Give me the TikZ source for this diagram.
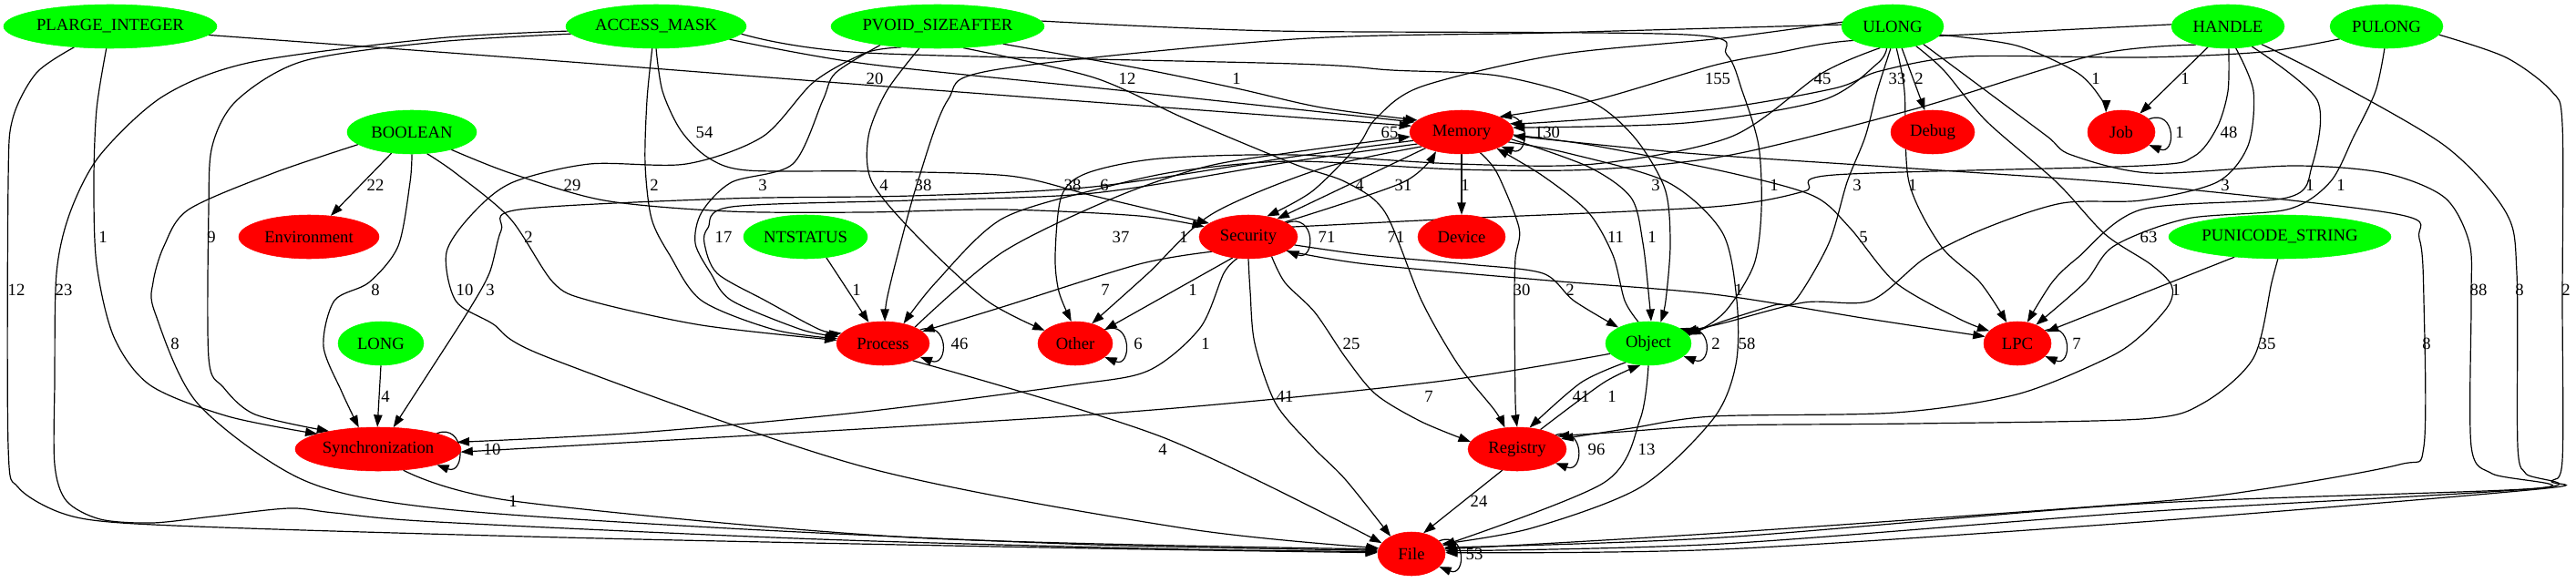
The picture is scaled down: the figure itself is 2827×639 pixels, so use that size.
\documentclass[tikz,border=0pt]{standalone}
\usepackage{fontspec}
\setmainfont{Liberation Serif}
\usetikzlibrary{shapes.geometric,arrows.meta,backgrounds}
\definecolor{gr}{RGB}{0,255,0}
\definecolor{rd}{RGB}{255,0,0}
\begin{document}
\begin{tikzpicture}[x=0.75pt,y=-0.75pt,
  n/.style={ellipse,inner sep=0pt,minimum height=36pt,font=\fontsize{14}{16}\selectfont},
  g/.style={n,fill=gr,draw=gr},
  r/.style={n,fill=rd,draw=rd},
  e/.style={line width=0.9pt,-{Triangle[length=10pt,width=7pt]}},
  lbl/.style={font=\fontsize{14}{16}\selectfont,inner sep=0pt}]
\useasboundingbox (0,0) rectangle (2827,639);
% nodes
\node[g,minimum width=175.5pt] (PL) at (121,29) {PLARGE\_INTEGER};
\node[g,minimum width=148.5pt] (AM) at (720,29) {ACCESS\_MASK};
\node[g,minimum width=175.5pt] (PV) at (1029,29) {PVOID\_SIZEAFTER};
\node[g,minimum width=84pt] (UL) at (2077,29) {ULONG};
\node[g,minimum width=93pt] (HA) at (2445,29) {HANDLE};
\node[g,minimum width=93pt] (PU) at (2619,29) {PULONG};
\node[g,minimum width=106.5pt] (BO) at (452,145) {BOOLEAN};
\node[r,minimum width=85.5pt] (ME) at (1604,145) {Memory};
\node[r,minimum width=69pt] (DE) at (2121,145) {Debug};
\node[r,minimum width=55.5pt] (JO) at (2328,145) {Job};
\node[r,minimum width=115.5pt] (EN) at (339,260) {Environment};
\node[g,minimum width=102pt] (NT) at (884,260) {NTSTATUS};
\node[r,minimum width=81pt] (SE) at (1370,260) {Security};
\node[r,minimum width=72pt] (DV) at (1604,260) {Device};
\node[g,minimum width=183pt] (PS) at (2502,260) {PUNICODE\_STRING};
\node[g,minimum width=70.5pt] (LO) at (418,377) {LONG};
\node[r,minimum width=76.5pt] (PR) at (969,377) {Process};
\node[r,minimum width=61.5pt] (OT) at (1180,377) {Other};
\node[g,minimum width=70.5pt] (OB) at (1809,377) {Object};
\node[r,minimum width=55.5pt] (LP) at (2214,377) {LPC};
\node[r,minimum width=136.5pt] (SY) at (415,493) {Synchronization};
\node[r,minimum width=81pt] (RE) at (1665,493) {Registry};
\node[r,minimum width=55.5pt] (FI) at (1549,608) {File};
\begin{scope}[on background layer]
\fill[white] (0,0) rectangle (2827,639);
% PLARGE_INTEGER
\draw[e] plot[smooth] coordinates {(PL.-5) (600,66) (960,94) (ME.173)};
\draw[e] plot[smooth] coordinates {(PL.-100) (106,120) (103,200) (106,290) (125,370) (165,423) (250,457) (SY.166)};
\draw[e] plot[smooth] coordinates {(PL.-150) (40,80) (14,130) (9,200) (9,490) (20,535) (67,563) (133,574) (333,582) (700,592) (1200,602) (FI.178)};
% ACCESS_MASK
\draw[e] plot[smooth] coordinates {(AM.-177) (480,42) (277,68) (180,105) (110,170) (77,233) (62,300) (60,420) (60,510) (73,550) (110,570) (167,574) (233,567) (317,558) (367,563) (480,573) (900,592) (1300,603) (FI.176)};
\draw[e] plot[smooth] coordinates {(AM.-175) (480,46) (333,67) (260,110) (233,160) (229,230) (229,393) (245,425) (280,455) (SY.160)};
\draw[e] plot[smooth] coordinates {(AM.-100) (710,110) (708,180) (715,240) (735,280) (770,330) (850,362) (PR.174)};
\draw[e] plot[smooth] coordinates {(AM.-90) (727,100) (747,143) (777,173) (820,187) (950,188) (1107,193) (1200,215) (SE.161)};
\draw[e] plot[smooth] coordinates {(AM.-10) (950,70) (1237,100) (ME.168)};
\draw[e] plot[smooth] coordinates {(AM.-5) (950,58) (1420,70) (1527,77) (1643,83) (1743,110) (1793,150) (1827,207) (1833,267) (1828,330) (OB.60)};
% PVOID_SIZEAFTER
\draw[e] plot[smooth] coordinates {(PV.-150) (950,58) (893,90) (837,150) (753,180) (647,180) (563,200) (520,233) (490,277) (500,330) (540,355) (603,393) (950,513) (1300,580) (FI.170)};
\draw[e] plot[smooth] coordinates {(PV.-162) (917,80) (903,110) (870,180) (803,200) (770,233) (763,267) (780,300) (803,330) (880,362) (PR.171)};
\draw[e] plot[smooth] coordinates {(PV.-130) (973,100) (953,150) (957,200) (1007,260) (1083,330) (OT.157)};
\draw[e] plot[smooth] coordinates {(PV.-15) (1250,75) (1357,97) (1450,118) (ME.165)};
\draw[e] plot[smooth] coordinates {(PV.-40) (1200,85) (1300,130) (1420,180) (1477,200) (1520,233) (1560,330) (1600,400) (1640,450) (RE.120)};
\draw[e] plot[smooth] coordinates {(PV.3) (1400,34) (1850,38) (1895,60) (1912,100) (1930,160) (1933,230) (1925,290) (1895,340) (1865,362) (OB.26)};
% ULONG
\draw[e] plot[smooth] coordinates {(UL.178) (1700,36) (1420,43) (1090,77) (1040,110) (1007,200) (985,280) (973,330) (PR.85)};
\draw[e] (UL.-67) -- (DE.110);
\draw[e] plot[smooth] coordinates {(UL.-10) (2213,50) (2280,80) (2307,110) (JO.128)};
\draw[e] plot[smooth] coordinates {(UL.-40) (2133,77) (2180,133) (2257,200) (2310,257) (2360,290) (2383,313) (2380,335) (2350,368) (2313,393) (2213,433) (2080,453) (1880,457) (1790,470) (RE.13)};
\draw[e] plot[smooth] coordinates {(UL.-30) (2180,100) (2247,150) (2273,170) (2360,190) (2517,182) (2617,190) (2683,217) (2710,267) (2712,330) (2712,490) (2735,520) (2785,536) (2350,553) (1890,590) (FI.11)};
\draw[e] plot[smooth] coordinates {(UL.-95) (2060,100) (2047,150) (2027,200) (2007,267) (1970,330) (1947,335) (1890,353) (OB.12)};
\draw[e] plot[smooth] coordinates {(UL.-105) (2060,70) (2000,110) (1850,135) (ME.5)};
\draw[e] plot[smooth] coordinates {(UL.175) (1890,42) (1710,60) (1560,95) (1510,130) (1490,160) (1440,210) (SE.48)};
\draw[e] plot[smooth] coordinates {(UL.-80) (2090,100) (2095,200) (2130,270) (2173,310) (LP.117)};
\draw[e] plot[smooth] coordinates {(UL.-120) (2000,80) (1900,150) (1750,180) (1600,180) (1420,170) (1273,174) (1193,190) (1165,215) (1158,280) (1162,320) (OT.100)};
% HANDLE
\draw[e] plot[smooth] coordinates {(HA.178) (2200,36) (2027,45) (1950,58) (1880,72) (1750,110) (ME.22)};
\draw[e] (HA.-134) -- (JO.45);
\draw[e] plot[smooth] coordinates {(HA.-88) (2445,100) (2433,140) (2407,172) (2350,182) (2013,192) (1980,210) (1880,227) (1600,240) (1440,248) (SE.13)};
\draw[e] plot[smooth] coordinates {(HA.-70) (2473,100) (2467,160) (2433,200) (2350,220) (2263,223) (2180,250) (2113,283) (2053,330) (1980,332) (1890,355) (OB.18)};
\draw[e] plot[smooth] coordinates {(HA.-40) (2543,110) (2537,183) (2510,217) (2350,230) (2280,283) (2252,310) (LP.65)};
\draw[e] plot[smooth] coordinates {(HA.-28) (2550,83) (2683,160) (2750,233) (2762,300) (2763,490) (2772,520) (2785,536) (2350,562) (1890,597) (FI.5)};
\draw[e] plot[smooth] coordinates {(HA.-150) (2300,60) (2100,120) (1900,170) (1750,186) (1600,186) (1420,177) (1300,187) (1215,205) (1100,240) (1027,310) (PR.44)};
% PULONG
\draw[e] plot[smooth] coordinates {(PU.-95) (2607,100) (2583,150) (2557,200) (2510,230) (2400,240) (2320,270) (2288,310) (LP.45)};
\draw[e] plot[smooth] coordinates {(PU.-9) (2750,63) (2800,100) (2812,137) (2812,330) (2812,505) (2800,528) (2785,537) (2350,573) (1890,603) (FI.2)};
\draw[e] plot[smooth] coordinates {(PU.-165) (2483,57) (2350,63) (2157,62) (2063,78) (2013,97) (1880,120) (1700,134) (ME.10)};
% BOOLEAN
\draw[e] (BO.-134) -- (EN.44);
\draw[e] plot[smooth] coordinates {(BO.-90) (450,200) (437,270) (405,310) (367,330) (355,380) (375,430) (SY.132)};
\draw[e] plot[smooth] coordinates {(BO.-167) (300,190) (207,230) (180,270) (168,310) (170,343) (217,443) (333,527) (480,558) (800,580) (1200,598) (FI.174)};
\draw[e] plot[smooth] coordinates {(BO.-55) (500,190) (560,240) (607,310) (647,330) (770,357) (PR.176)};
\draw[e] plot[smooth] coordinates {(BO.-24) (560,190) (663,220) (800,232) (950,233) (1100,230) (1250,237) (SE.167)};
% NTSTATUS, LONG, PUNICODE_STRING
\draw[e] (NT.-45) -- (PR.124);
\draw[e] (LO.-90) -- (SY.92);
\draw[e] (PS.-156) -- (LP.22);
\draw[e] plot[smooth] coordinates {(PS.-95) (2493,310) (2473,393) (2417,443) (2350,460) (2100,465) (1890,467) (1780,474) (RE.18)};
% Memory
\draw[e] (ME.-90) -- (DV.90);
\draw[e] (ME.-156) -- (SE.32);
\draw[e] plot[smooth] coordinates {(SE.22) (1540,200) (ME.-143)};
\draw[e] plot[smooth] coordinates {(ME.-48) (1643,190) (1667,250) (1663,283) (1662,330) (1663,440) (RE.90)};
\draw[e] plot[smooth] coordinates {(ME.-8) (1743,183) (1790,217) (1803,267) (1810,330) (OB.83)};
\draw[e] plot[smooth] coordinates {(OB.115) (1783,330) (1770,280) (1743,233) (1693,193) (ME.-25)};
\draw[e] plot[smooth] coordinates {(ME.-3) (1750,160) (1900,190) (1990,215) (2030,250) (2080,310) (2150,350) (LP.156)};
\draw[e] plot[smooth] coordinates {(ME.-170) (1420,172) (1200,205) (1000,215) (800,218) (570,230) (550,253) (537,300) (513,343) (470,410) (SY.55)};
\draw[e] plot[smooth] coordinates {(ME.-165) (1420,177) (1200,212) (1000,220) (803,227) (777,250) (773,267) (787,300) (840,330) (900,362) (PR.166)};
\draw[e] plot[smooth] coordinates {(PR.27) (1100,277) (1223,217) (1323,183) (1420,167) (ME.-175)};
\draw[e] plot[smooth] coordinates {(ME.-160) (1450,185) (1330,235) (1260,300) (OT.50)};
\draw[e] plot[smooth] coordinates {(ME.-12) (1720,168) (1830,200) (1890,255) (1906,330) (1905,400) (1880,460) (1800,535) (1680,580) (FI.18)};
\draw[e] plot[smooth] coordinates {(FI.8) (1890,585) (2350,552) (2483,537) (2633,510) (2660,490) (2660,330) (2655,262) (2630,235) (2350,203) (2100,185) (1850,168) (ME.-4)};
% Security
\draw[e] plot[smooth] coordinates {(SE.-158) (1250,290) (1100,337) (PR.17)};
\draw[e] (SE.-127) -- (OT.25);
\draw[e] plot[smooth] coordinates {(SE.-117) (1343,300) (1317,360) (1260,407) (1173,423) (940,453) (700,475) (SY.5)};
\draw[e] plot[smooth] coordinates {(SE.-90) (1372,320) (1377,377) (1400,443) (1440,490) (1477,527) (FI.140)};
\draw[e] plot[smooth] coordinates {(SE.-40) (1410,310) (1443,343) (1477,393) (1510,433) (1560,463) (RE.171)};
\draw[e] plot[smooth] coordinates {(SE.-10) (1500,280) (1610,290) (1693,300) (1727,330) (OB.152)};
\draw[e] plot[smooth] coordinates {(SE.-20) (1500,290) (1700,308) (1880,323) (2050,350) (LP.168)};
% lower
\draw[e] plot[smooth] coordinates {(PR.-30) (1276,480) (FI.160)};
\draw[e] plot[smooth] coordinates {(OB.-165) (1568,420) (1200,455) (SY.-2)};
\draw[e] plot[smooth] coordinates {(OB.-140) (1735,420) (RE.60)};
\draw[e] plot[smooth] coordinates {(RE.40) (1760,420) (OB.-110)};
\draw[e] plot[smooth] coordinates {(OB.-90) (1800,460) (1760,530) (FI.15)};
\draw[e] (RE.-125) -- (FI.60);
\draw[e] plot[smooth] coordinates {(SY.-40) (563,550) (1000,590) (FI.172)};
% self loops
\draw[e] (ME.20) .. controls +(32,-12) and +(32,12) .. (ME.-20);
\draw[e] (JO.25) .. controls +(30,-12) and +(30,12) .. (JO.-25);
\draw[e] (SE.20) .. controls +(32,-12) and +(32,12) .. (SE.-20);
\draw[e] (PR.20) .. controls +(32,-12) and +(32,12) .. (PR.-20);
\draw[e] (OT.25) .. controls +(30,-12) and +(30,12) .. (OT.-25);
\draw[e] (OB.20) .. controls +(32,-12) and +(32,12) .. (OB.-20);
\draw[e] (LP.25) .. controls +(30,-12) and +(30,12) .. (LP.-25);
\draw[e] (SY.15) .. controls +(32,-12) and +(32,12) .. (SY.-15);
\draw[e] (RE.20) .. controls +(32,-12) and +(32,12) .. (RE.-20);
\draw[e] (FI.25) .. controls +(30,-12) and +(30,12) .. (FI.-25);
\end{scope}
% labels
\node[lbl] (l1) at (960,86) {20};
\node[lbl] (l2) at (113,260) {1};
\node[lbl] (l3) at (18,318) {12};
\node[lbl] (l4) at (70,318) {23};
\node[lbl] (l5) at (232,260) {9};
\node[lbl] (l6) at (718,203) {2};
\node[lbl] (l7) at (773,145) {54};
\node[lbl] (l8) at (1237,86) {12};
\node[lbl] (l9) at (1817,203) {3};
\node[lbl] (l10) at (510,318) {10};
\node[lbl] (l11) at (837,203) {3};
\node[lbl] (l12) at (970,203) {4};
\node[lbl] (l13) at (1357,86) {1};
\node[lbl] (l14) at (1532,260) {71};
\node[lbl] (l15) at (1947,203) {1};
\node[lbl] (l16) at (1013,203) {38};
\node[lbl] (l17) at (2106,86) {2};
\node[lbl] (l18) at (2300,86) {1};
\node[lbl] (l19) at (2358,260) {63};
\node[lbl] (l20) at (2720,318) {88};
\node[lbl] (l21) at (2038,203) {3};
\node[lbl] (l22) at (2082,86) {33};
\node[lbl] (l23) at (1525,145) {65};
\node[lbl] (l24) at (2099,203) {1};
\node[lbl] (l25) at (1177,203) {38};
\node[lbl] (l26) at (1885,86) {155};
\node[lbl] (l27) at (2398,86) {1};
\node[lbl] (l28) at (2446,145) {48};
\node[lbl] (l29) at (2442,203) {3};
\node[lbl] (l30) at (2535,203) {1};
\node[lbl] (l31) at (2765,318) {8};
\node[lbl] (l32) at (1212,203) {6};
\node[lbl] (l33) at (2569,203) {1};
\node[lbl] (l34) at (2816,318) {2};
\node[lbl] (l35) at (2000,86) {45};
\node[lbl] (l36) at (412,203) {22};
\node[lbl] (l37) at (412,318) {8};
\node[lbl] (l38) at (192,377) {8};
\node[lbl] (l39) at (580,260) {2};
\node[lbl] (l40) at (628,203) {29};
\node[lbl] (l41) at (940,318) {1};
\node[lbl] (l42) at (423,435) {4};
\node[lbl] (l43) at (2388,318) {1};
\node[lbl] (l44) at (2488,377) {35};
\node[lbl] (l45) at (1608,203) {1};
\node[lbl] (l46) at (1492,203) {4};
\node[lbl] (l47) at (1540,203) {31};
\node[lbl] (l48) at (1670,318) {30};
\node[lbl] (l49) at (1813,260) {1};
\node[lbl] (l50) at (1773,260) {11};
\node[lbl] (l51) at (2045,260) {5};
\node[lbl] (l52) at (538,318) {3};
\node[lbl] (l53) at (794,260) {17};
\node[lbl] (l54) at (1230,260) {37};
\node[lbl] (l55) at (1299,260) {1};
\node[lbl] (l56) at (1917,377) {58};
\node[lbl] (l57) at (2663,377) {8};
\node[lbl] (l58) at (1213,318) {7};
\node[lbl] (l59) at (1309,318) {1};
\node[lbl] (l60) at (1323,377) {1};
\node[lbl] (l61) at (1410,435) {41};
\node[lbl] (l62) at (1483,377) {25};
\node[lbl] (l63) at (1723,318) {2};
\node[lbl] (l64) at (1908,318) {1};
\node[lbl] (l65) at (1276,493) {4};
\node[lbl] (l66) at (1568,435) {7};
\node[lbl] (l67) at (1735,435) {41};
\node[lbl] (l68) at (1769,435) {1};
\node[lbl] (l69) at (1807,493) {13};
\node[lbl] (l70) at (1623,550) {24};
\node[lbl] (l71) at (563,550) {1};
\node[lbl] (l72) at (1698,145) {130};
\node[lbl] (l73) at (2392,145) {1};
\node[lbl] (l74) at (1456,260) {71};
\node[lbl] (l75) at (1053,377) {46};
\node[lbl] (l76) at (1249,377) {6};
\node[lbl] (l77) at (1883,377) {2};
\node[lbl] (l78) at (2279,377) {7};
\node[lbl] (l79) at (540,493) {10};
\node[lbl] (l80) at (1752,493) {96};
\node[lbl] (l81) at (1618,608) {53};
\end{tikzpicture}
\end{document}
